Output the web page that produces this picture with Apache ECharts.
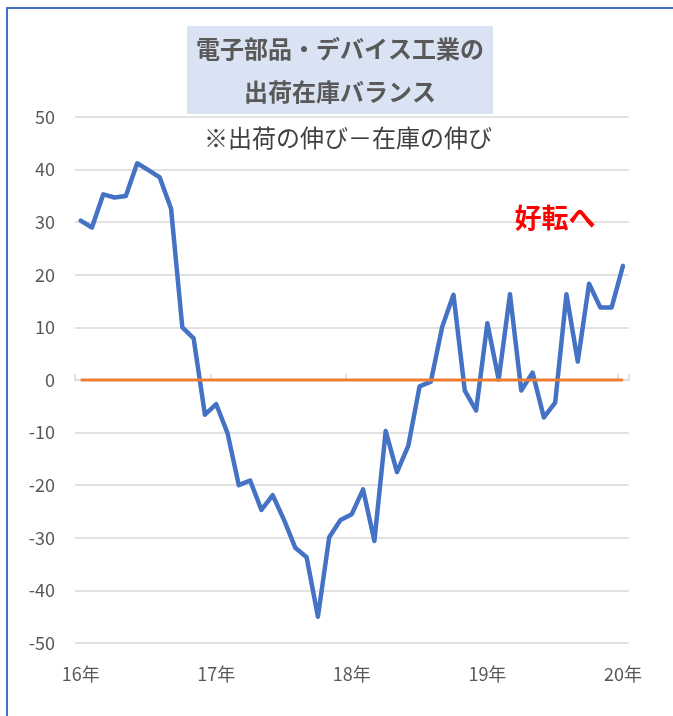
<!DOCTYPE html>
<html>
<head>
<meta charset="utf-8">
<script src="https://cdn.jsdelivr.net/npm/echarts@6/dist/echarts.min.js"></script>
<style>
  html, body { margin: 0; padding: 0; background: #ffffff; }
  #chart { width: 673px; height: 716px; }
</style>
</head>
<body>
<div id="chart"></div>
<script>
// Monthly categories Jan 2016 .. Jan 2020
var categories = [
  '2016-01','2016-02','2016-03','2016-04','2016-05','2016-06','2016-07','2016-08','2016-09','2016-10','2016-11','2016-12',
  '2017-01','2017-02','2017-03','2017-04','2017-05','2017-06','2017-07','2017-08','2017-09','2017-10','2017-11','2017-12',
  '2018-01','2018-02','2018-03','2018-04','2018-05','2018-06','2018-07','2018-08','2018-09','2018-10','2018-11','2018-12',
  '2019-01','2019-02','2019-03','2019-04','2019-05','2019-06','2019-07','2019-08','2019-09','2019-10','2019-11','2019-12',
  '2020-01'
];
// Year tick labels, keyed by category
var yearLabels = { '2016-01': '16年', '2017-01': '17年', '2018-01': '18年', '2019-01': '19年', '2020-01': '20年' };

// 出荷の伸び − 在庫の伸び
var balance = [
  30.3, 29.0, 35.3, 34.7, 35.0, 41.2, 39.9, 38.5, 32.6, 10.0, 7.9, -6.6,
  -4.6, -10.1, -20.0, -19.1, -24.7, -21.9, -26.6, -31.9, -33.7, -45.0, -29.9, -26.6,
  -25.5, -20.8, -30.6, -9.7, -17.5, -12.5, -1.2, -0.3, 10.1, 16.2, -2.0, -5.8,
  10.8, 0.1, 16.3, -2.0, 1.4, -7.1, -4.3, 16.3, 3.5, 18.3, 13.8, 13.8,
  21.7
];
// Zero reference line
var zeroLine = [
  0,0,0,0,0,0,0,0,0,0,0,0,
  0,0,0,0,0,0,0,0,0,0,0,0,
  0,0,0,0,0,0,0,0,0,0,0,0,
  0,0,0,0,0,0,0,0,0,0,0,0,
  0
];

var titleLines = '電子部品・デバイス工業の\n出荷在庫バランス';
var subtitle = '※出荷の伸び－在庫の伸び';
var annotation = '好転へ';

var FONT = '"Noto Sans CJK JP", "Noto Sans", sans-serif';

var chart = echarts.init(document.getElementById('chart'), null, { renderer: 'canvas' });
chart.setOption({
  backgroundColor: '#ffffff',
  animation: false,
  textStyle: { fontFamily: FONT },
  grid: { left: 75, right: 44.4, top: 117, bottom: 73, containLabel: false },
  xAxis: [
    {
      type: 'category',
      data: categories,
      boundaryGap: true,
      position: 'bottom',
      axisLine: { show: false, onZero: false },
      axisTick: { show: false },
      splitLine: { show: false },
      axisLabel: {
        interval: function (i) { return i % 12 === 0; },
        formatter: function (v) { return yearLabels[v] || ''; },
        color: '#595959',
        fontSize: 18,
        fontFamily: FONT,
        margin: 22
      }
    },
    {
      type: 'category',
      data: categories,
      boundaryGap: true,
      position: 'bottom',
      axisLine: { show: true, onZero: true, lineStyle: { color: '#d9d9d9', width: 1.5 } },
      axisTick: {
        show: true, inside: true, length: 6,
        interval: function (i) { return i % 12 === 0; },
        lineStyle: { color: '#d9d9d9', width: 1.5 }
      },
      axisLabel: { show: false },
      splitLine: { show: false }
    }
  ],
  yAxis: {
    type: 'value',
    min: -50, max: 50, interval: 10,
    axisLine: { show: false },
    axisTick: { show: false },
    axisLabel: { color: '#595959', fontSize: 18, fontFamily: FONT, margin: 20 },
    splitLine: { lineStyle: { color: '#d9d9d9', width: 1.5 } }
  },
  series: [
    {
      type: 'line',
      xAxisIndex: 0,
      data: balance,
      symbol: 'none',
      lineStyle: { color: '#4472c4', width: 4.5, cap: 'round', join: 'round' },
      z: 3
    },
    {
      type: 'line',
      xAxisIndex: 0,
      data: zeroLine,
      symbol: 'none',
      lineStyle: { color: '#ed7d31', width: 3 },
      z: 4
    }
  ],
  graphic: [
    {
      type: 'rect', z: -10, silent: true,
      shape: { x: 7, y: 8, width: 720, height: 760 },
      style: { fill: 'none', stroke: '#4472c4', lineWidth: 2 }
    },
    {
      type: 'rect', z: 10, silent: true,
      shape: { x: 187, y: 26, width: 306, height: 88 },
      style: { fill: '#dae3f3' }
    },
    {
      type: 'text', z: 11, silent: true,
      x: 340, y: 70,
      style: {
        text: titleLines, fill: '#595959', font: 'bold 24px ' + FONT,
        align: 'center', verticalAlign: 'middle', lineHeight: 43
      }
    },
    {
      type: 'text', z: 11, silent: true,
      x: 348, y: 138,
      style: {
        text: subtitle, fill: '#404040', font: '24px ' + FONT,
        align: 'center', verticalAlign: 'middle'
      }
    },
    {
      type: 'text', z: 11, silent: true,
      x: 555, y: 218,
      style: {
        text: annotation, fill: '#ff0000', font: 'bold 27px ' + FONT,
        align: 'center', verticalAlign: 'middle'
      }
    }
  ]
});
</script>
</body>
</html>
